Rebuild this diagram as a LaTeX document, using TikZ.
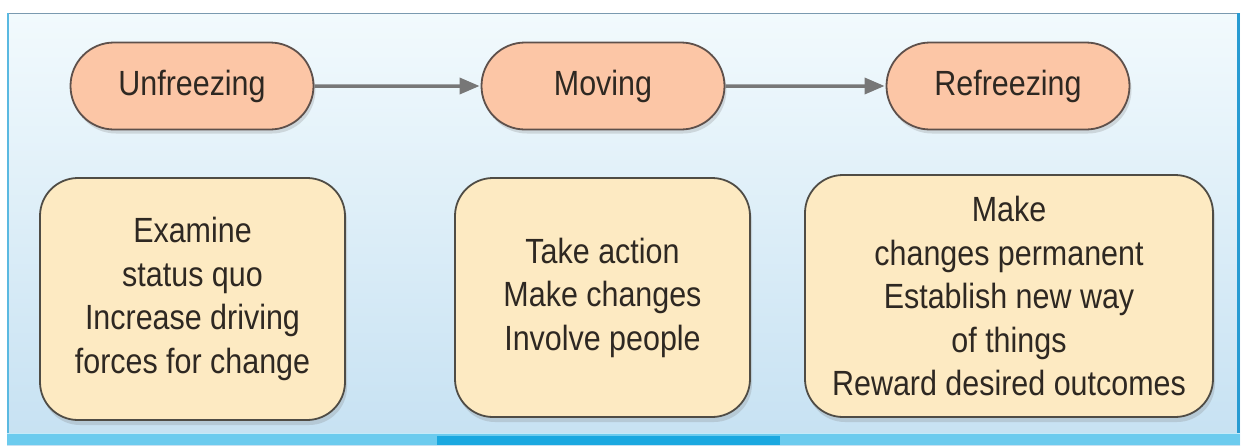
\documentclass[tikz,border=0pt]{standalone}
\usepackage{fontspec}
\setmainfont{Liberation Sans}[FakeStretch=0.87]
\usetikzlibrary{shapes.misc,shadows,arrows.meta}
\definecolor{pillfill}{HTML}{FCC6A6}
\definecolor{pilldraw}{HTML}{5E504B}
\definecolor{boxfill}{HTML}{FDEAC2}
\definecolor{boxdraw}{HTML}{4F4C45}
\definecolor{txt}{HTML}{2E2822}
\definecolor{arrowgray}{HTML}{777777}
\definecolor{bgtop}{HTML}{F2FAFD}
\definecolor{bgbot}{HTML}{C6E1F2}
\definecolor{bandlight}{HTML}{6CCBEE}
\definecolor{banddark}{HTML}{1AA8E0}
\begin{document}
\begin{tikzpicture}[x=1pt,y=-1pt,
  stage/.style={rounded rectangle, draw=pilldraw, line width=1.8pt, fill=pillfill,
    minimum width=243pt, minimum height=87pt, inner sep=0pt, text=txt,
    font=\fontsize{35pt}{42pt}\selectfont,
    drop shadow={shadow xshift=2pt, shadow yshift=-4pt, opacity=0.25, fill=gray}},
  detail/.style={rectangle, rounded corners=38pt, draw=boxdraw, line width=1.8pt, fill=boxfill,
    inner sep=0pt, text=txt, align=center,
    font=\fontsize{35pt}{43.5pt}\selectfont,
    drop shadow={shadow xshift=2pt, shadow yshift=-5pt, opacity=0.25, fill=gray}},
  flow/.style={draw=arrowgray, line width=3.5pt, -{Triangle[length=20pt,width=16pt]}, shorten >=1pt}]
\useasboundingbox (0,0) rectangle (1243,445);
\fill[white] (0,0) rectangle (1243,445);
\shade[top color=bgtop, bottom color=bgbot] (7,13) rectangle (1240,445);
% frame
\draw[line width=1.5pt, draw={rgb,255:red,122;green,154;blue,176}] (7,13.5) -- (1238,13.5);
\draw[line width=2.5pt, draw={rgb,255:red,90;green,185;blue,225}] (8,13) -- (8,445);
\draw[line width=3pt, draw={rgb,255:red,40;green,155;blue,210}] (1238.5,13) -- (1238.5,445);
\fill[bandlight] (7,434) rectangle (1240,445);
\fill[banddark] (437,436) rectangle (780,445);
\draw[line width=1pt, white!60!bandlight] (7,433) -- (1240,433);
% stages
\node[stage] (unf) at (192,86) {Unfreezing};
\node[stage] (mov) at (603,86) {Moving};
\node[stage] (ref) at (1008,86) {Refreezing};
\draw[flow] (unf) -- (mov);
\draw[flow] (mov) -- (ref);
% details
\node[detail, minimum width=305pt, minimum height=242pt] (d1) at (192.5,299)
  {Examine\\status quo\\Increase driving\\forces for change};
\node[detail, minimum width=295pt, minimum height=239pt] (d2) at (602.5,297.5)
  {Take action\\Make changes\\Involve people};
\node[detail, minimum width=408pt, minimum height=242pt] (d3) at (1009,296)
  {Make\\changes permanent\\Establish new way\\of things\\Reward desired outcomes};
\end{tikzpicture}
\end{document}
